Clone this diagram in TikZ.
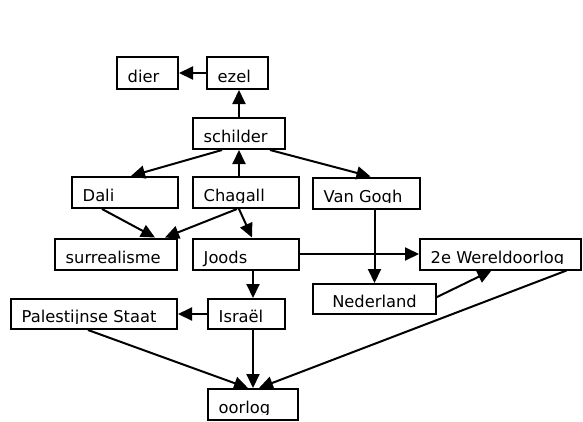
\documentclass[tikz,border=0pt]{standalone}
\usepackage{fontspec}
\setmainfont{DejaVu Sans}
\usetikzlibrary{arrows.meta,calc}
% caption of a concept box: text sits on a fixed baseline and is cut off
% #1 above the box bottom (just below the baseline)
\newcommand\cptext[3][6.6pt]{%
  \begin{scope}
    \clip ([yshift=#1]#2.south west) rectangle (#2.north east);
    \node[anchor=base west, inner sep=0pt, outer sep=0pt]
      at ([xshift=11.7pt,yshift=7.5pt]#2.south west) {#3};
  \end{scope}}
\newcommand\cptextc[2]{%
  \begin{scope}
    \clip ([yshift=6.6pt]#1.south west) rectangle (#1.north east);
    \node[anchor=base, inner sep=0pt, outer sep=0pt]
      at ([yshift=7.5pt]#1.south) {#2};
  \end{scope}}
\begin{document}
\begin{tikzpicture}[x=1pt,y=-1pt,
  font=\fontsize{16.3pt}{19pt}\selectfont,
  concept/.style={draw, line width=2pt, inner sep=0pt, minimum height=31pt},
  conn/.style={line width=2pt, -{Triangle[length=14pt,width=13pt]}}]
\useasboundingbox (0,0) rectangle (583,421);

% concepts
\node[concept, minimum width=61pt, minimum height=32pt] (dier) at (147.5,73) {};
\node[concept, minimum width=61pt, minimum height=32pt] (ezel) at (237.5,73) {};
\node[concept, minimum width=92pt] (schilder) at (239,133.5) {};
\node[concept, minimum width=106pt] (dali) at (125,192.5) {};
\node[concept, minimum width=106pt] (chagall) at (246,192.5) {};
\node[concept, minimum width=107pt] (vangogh) at (366.5,193) {};
\node[concept, minimum width=122pt] (surr) at (116,254) {};
\node[concept, minimum width=106pt] (joods) at (246,254) {};
\node[concept, minimum width=161pt] (wo) at (500.5,254) {};
\node[concept, minimum width=123pt, minimum height=30pt] (nederland) at (374.5,299) {};
\node[concept, minimum width=166pt, minimum height=30pt] (pal) at (94,314) {};
\node[concept, minimum width=77pt, minimum height=30pt] (israel) at (246.5,314) {};
\node[concept, minimum width=90pt] (oorlog) at (253,404.5) {};

% captions
\cptext[7.6pt]{dier}{dier}
\cptext[7.6pt]{ezel}{ezel}
\cptext{schilder}{schilder}
\cptext{dali}{Dali}
\cptext{chagall}{Chagall}
\cptext{vangogh}{Van Gogh}
\cptext{surr}{surrealisme}
\cptext[2pt]{joods}{Joods}
\cptext{wo}{2e Wereldoorlog}
\cptextc{nederland}{Nederland}
\cptext{pal}{Palestijnse Staat}
\cptext{israel}{Israël}
\cptext{oorlog}{oorlog}

% relations
\draw[conn] (ezel.west) -- (dier.east);
\draw[conn] (schilder.north) -- (schilder.north |- ezel.south);
\draw[conn] (schilder.south |- chagall.north) -- (schilder.south);
\draw[conn] ([xshift=-17pt]schilder.south) -- ([xshift=6pt]dali.north);
\draw[conn] ([xshift=31pt]schilder.south) -- ([xshift=4pt]vangogh.north);
\draw[conn] ([xshift=-23pt]dali.south) -- ([xshift=39pt]surr.north);
\draw[conn] ([xshift=-9pt]chagall.south) -- ([xshift=49pt]surr.north);
\draw[conn] ([xshift=-7pt]chagall.south) -- ([xshift=6pt]joods.north);
\draw[conn] (joods.east) -- (wo.west);
\draw[conn] (nederland.north |- vangogh.south) -- (nederland.north);
\draw[conn] ([yshift=2pt]nederland.east) -- ([xshift=-9pt]wo.south);
\draw[conn] (israel.west) -- (pal.east);
\draw[conn] ([xshift=7pt]joods.south) -- ([xshift=7pt]joods.south |- israel.north);
\draw[conn] (oorlog.north |- israel.south) -- (oorlog.north);
\draw[conn] ([xshift=-6pt]pal.south) -- ([xshift=-5pt]oorlog.north);
\draw[conn] ([xshift=66pt]wo.south) -- ([xshift=6pt]oorlog.north);
\end{tikzpicture}
\end{document}
